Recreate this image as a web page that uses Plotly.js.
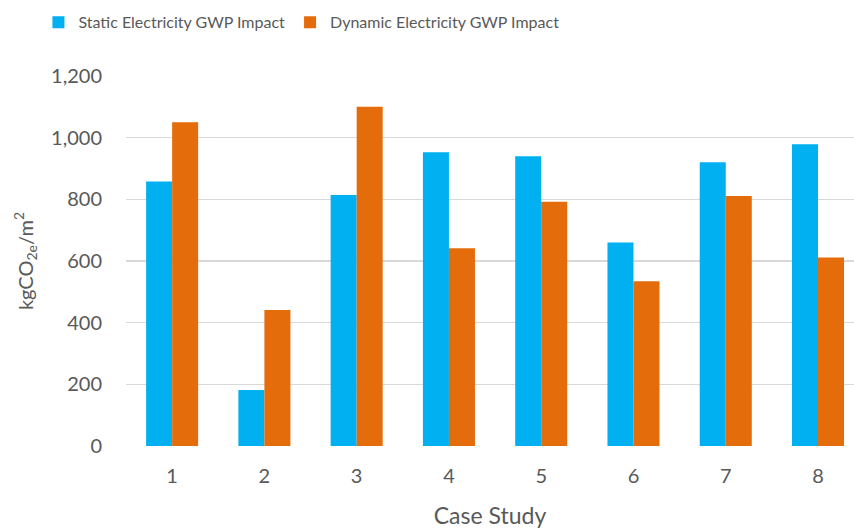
<!DOCTYPE html>
<html>
<head>
<meta charset="utf-8">
<script src="https://cdn.plot.ly/plotly-3.0.1.min.js"></script>
<style>html,body{margin:0;padding:0;background:#fff;}#chart{width:854px;height:532px;}</style>
</head>
<body>
<div id="chart"></div>
<script>
const caseStudies = [1, 2, 3, 4, 5, 6, 7, 8];
const staticGWP = [858, 182, 814, 953, 940, 660, 920, 979];
const dynamicGWP = [1050, 441, 1100, 641, 792, 534, 811, 611];
const yTickVals = [0, 200, 400, 600, 800, 1000, 1200];
const yTickText = ['0', '200', '400', '600', '800', '1,000', '1,200'];

const fontFam = "Lato, 'Open Sans', sans-serif";
const textColor = '#595959';

const traces = [
  {type: 'bar', name: 'Static Electricity GWP Impact', x: caseStudies, y: staticGWP,
   marker: {color: '#00B0F0'}},
  {type: 'bar', name: 'Dynamic Electricity GWP Impact', x: caseStudies, y: dynamicGWP,
   marker: {color: '#E46C0A'}}
];

const layout = {
  width: 854, height: 532,
  margin: {l: 126, r: 0, t: 76, b: 86},
  paper_bgcolor: '#ffffff', plot_bgcolor: '#ffffff',
  barmode: 'group', bargap: 0.436, bargroupgap: 0,
  font: {family: fontFam, color: textColor, size: 19},
  showlegend: true,
  legend: {orientation: 'h', xref: 'container', yref: 'container', x: 0.045, y: 0.958,
           xanchor: 'left', yanchor: 'middle',
           font: {size: 16, color: textColor}, traceorder: 'normal'},
  xaxis: {range: [0.5, 8.39], tickvals: caseStudies, ticktext: caseStudies.map(String),
          showgrid: false, zeroline: false, showline: false, ticks: '',
          ticklabelstandoff: 16,
          tickfont: {size: 20, color: textColor},
          title: {text: 'Case Study', font: {size: 23, color: textColor}, standoff: 21}},
  yaxis: {range: [0, 1200], tickvals: yTickVals, ticktext: yTickText,
          showgrid: true, gridcolor: '#D9D9D9', gridwidth: 1.5, zeroline: false, showline: false,
          ticks: '', ticklen: 0, ticklabelstandoff: 23, tickfont: {size: 20, color: textColor},
          title: {text: 'kgCO<sub>2e</sub>/m<sup>2</sup>', font: {size: 20, color: textColor}, standoff: 12}}
};

Plotly.newPlot('chart', traces, layout, {displayModeBar: false, staticPlot: true});
</script>
</body>
</html>
